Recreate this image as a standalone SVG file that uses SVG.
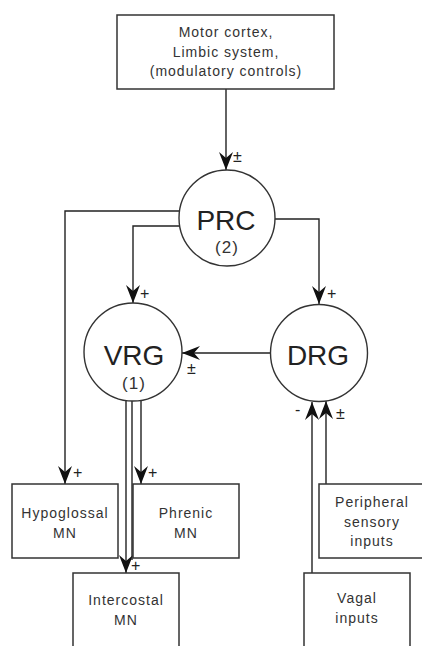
<svg xmlns="http://www.w3.org/2000/svg" width="422" height="646" viewBox="0 0 422 646">
<style>
.box{fill:#fff;stroke:#333;stroke-width:1.5}
.node{fill:#fff;stroke:#333;stroke-width:1.4}
.t{font-family:"Liberation Sans",Arial,sans-serif;font-size:14px;letter-spacing:1px;fill:#333;text-anchor:middle}
.big{font-family:"Liberation Sans",Arial,sans-serif;font-size:28px;fill:#222;text-anchor:middle}
.num{font-family:"Liberation Sans",Arial,sans-serif;font-size:17px;letter-spacing:1px;fill:#333;text-anchor:middle}
.s{font-family:"Liberation Sans",Arial,sans-serif;font-size:16px;fill:#222}
.c{fill:none;stroke:#222;stroke-width:1.4}
</style>
<defs>
<marker id="ah" markerUnits="userSpaceOnUse" markerWidth="22" markerHeight="18" viewBox="-20 -9 21 18" refX="0" refY="0" orient="auto">
<path d="M0,0 L-18,-7 L-12,0 L-18,7 Z" fill="#111"/>
</marker>
</defs>
<g id="connectors">
<path class="c" d="M226,89 V170" marker-end="url(#ah)"/>
<path class="c" d="M180,211 H65 V484" marker-end="url(#ah)"/>
<path class="c" d="M180,226 H133 V303" marker-end="url(#ah)"/>
<path class="c" d="M275,219 H319 V304" marker-end="url(#ah)"/>
<path class="c" d="M270,353 H182" marker-end="url(#ah)"/>
<path class="c" d="M126,401 V573" marker-end="url(#ah)"/>
<path class="c" d="M132,401 V560"/>
<path class="c" d="M141,400 V484" marker-end="url(#ah)"/>
<path class="c" d="M312,573 V402" marker-end="url(#ah)"/>
<path class="c" d="M326,484 V401" marker-end="url(#ah)"/>
<text class="s" x="233" y="162">±</text>
<text class="s" x="140" y="299">+</text>
<text class="s" x="327" y="299">+</text>
<text class="s" x="187" y="374">±</text>
<text class="s" x="73" y="478">+</text>
<text class="s" x="148" y="478">+</text>
<text class="s" x="131" y="571">+</text>
<text class="s" x="295" y="415">-</text>
<text class="s" x="336" y="419">±</text>
</g>
<g id="top">
<rect class="box" x="117" y="15" width="217" height="74"/>
<text class="t" x="226" y="37">Motor cortex,</text>
<text class="t" x="226" y="57">Limbic system,</text>
<text class="t" x="226" y="76">(modulatory controls)</text>
</g>
<g id="prc">
<circle class="node" cx="227" cy="218" r="48"/>
<text class="big" x="226" y="230">PRC</text>
<text class="num" x="227" y="253">(2)</text>
</g>
<g id="vrg">
<circle class="node" cx="133" cy="352" r="49"/>
<text class="big" x="134" y="365">VRG</text>
<text class="num" x="134" y="389">(1)</text>
</g>
<g id="drg">
<circle class="node" cx="319" cy="353" r="48.5"/>
<text class="big" x="318" y="365">DRG</text>
</g>
<g id="hypoglossal">
<rect class="box" x="12" y="484" width="106" height="74"/>
<text class="t" x="65" y="518">Hypoglossal</text>
<text class="t" x="65" y="538">MN</text>
</g>
<g id="phrenic">
<rect class="box" x="133" y="484" width="106" height="74"/>
<text class="t" x="186" y="518">Phrenic</text>
<text class="t" x="186" y="538">MN</text>
</g>
<g id="intercostal">
<rect class="box" x="73" y="573" width="106" height="80"/>
<text class="t" x="126" y="605">Intercostal</text>
<text class="t" x="126" y="625">MN</text>
</g>
<g id="peripheral">
<rect class="box" x="319" y="484" width="106" height="74"/>
<text class="t" x="372" y="507">Peripheral</text>
<text class="t" x="372" y="527">sensory</text>
<text class="t" x="372" y="546">inputs</text>
</g>
<g id="vagal">
<rect class="box" x="304" y="573" width="106" height="80"/>
<text class="t" x="357" y="603">Vagal</text>
<text class="t" x="357" y="623">inputs</text>
</g>
</svg>
